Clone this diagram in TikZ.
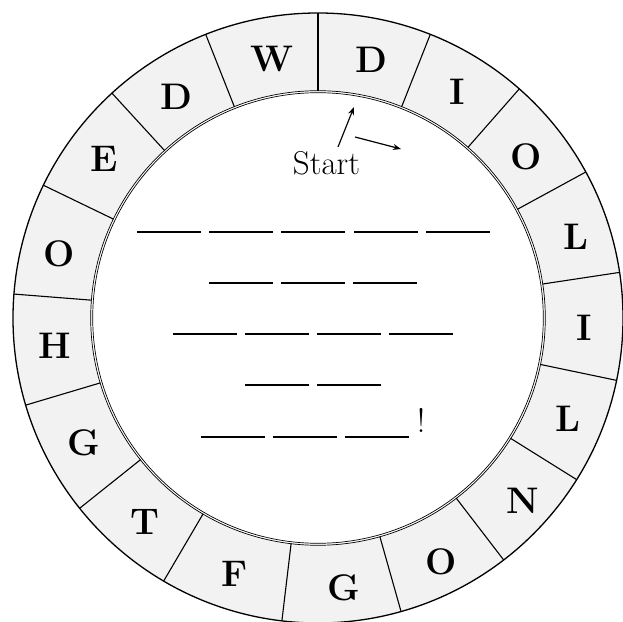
\documentclass[tikz,border=0pt]{standalone}
\usepackage{fontspec}
\usetikzlibrary{arrows.meta}
\definecolor{ringgray}{HTML}{F2F2F2}
\begin{document}
\begin{tikzpicture}[x=1pt,y=1pt,
  letter/.style={font=\fontsize{37}{37}\selectfont\bfseries, inner sep=0pt},
  divider/.style={line width=1.1pt},
  blank/.style={line width=2pt},
  ptr/.style={line width=1.2pt,-{Stealth[length=8pt,width=6pt]}}]
\useasboundingbox (0,0) rectangle (623,621);
\coordinate (c) at (318,303);
% ring
\fill[ringgray] (c) circle (305);
\fill[white] (c) circle (227);
\draw[line width=1.3pt] (c) circle (305);
\draw[line width=0.7pt] (c) circle (225.3);
\draw[line width=0.7pt] (c) circle (227.3);
% dividers
\begin{scope}[shift={(318,303)}]
\foreach \a in {90,68.4,48.7,28.6,8.6,-11.8,-32,-52.5,-74.2,-96.8,-120.4,-141.4,-163.4,175.5,154.2,132.5,111.6}
  \draw[divider] (\a:227) -- (\a:305);
\end{scope}
% letters
\node[letter] (l1)  at (371.5,561.4) {D};
\node[letter] (l2)  at (457,529.6) {I};
\node[letter] (l3)  at (526.4,464) {O};
\node[letter] (l4)  at (576,384.6) {L};
\node[letter] (l5)  at (584,293.2) {I};
\node[letter] (l6)  at (568,202) {L};
\node[letter] (l7)  at (522.4,120.4) {N};
\node[letter] (l8)  at (441,59) {O};
\node[letter] (l9)  at (343.7,33) {G};
\node[letter] (l10) at (234.4,47) {F};
\node[letter] (l11) at (145,98.6) {T};
\node[letter] (l12) at (83.4,178) {G};
\node[letter] (l13) at (54.8,275.4) {H};
\node[letter] (l14) at (59.6,366.7) {O};
\node[letter] (l15) at (104,462) {E};
\node[letter] (l16) at (176,523.7) {D};
\node[letter] (l17) at (272,562.2) {W};
% start
\node[font=\fontsize{33}{33}\selectfont, inner sep=0pt, anchor=base] (start) at (326.5,446) {Start};
\coordinate (a1s) at (338,474);
\coordinate (a1e) at (354,514);
\coordinate (a2s) at (355,484);
\coordinate (a2e) at (401,472);
\draw[ptr] (a1s) -- (a1e);
\draw[ptr] (a2s) -- (a2e);
% blanks
\foreach \x in {137,209,281,354,426} \draw[blank] (\x,389) -- ++(64,0);
\foreach \x in {209,281,353} \draw[blank] (\x,338) -- ++(64,0);
\foreach \x in {173,245,317,389} \draw[blank] (\x,287) -- ++(64,0);
\foreach \x in {245,317} \draw[blank] (\x,236) -- ++(64,0);
\foreach \x in {201,273,345} \draw[blank] (\x,184) -- ++(64,0);
\node[font=\fontsize{34}{34}\selectfont, inner sep=0pt, anchor=base] (excl) at (421,188) {!};
\end{tikzpicture}
\end{document}
